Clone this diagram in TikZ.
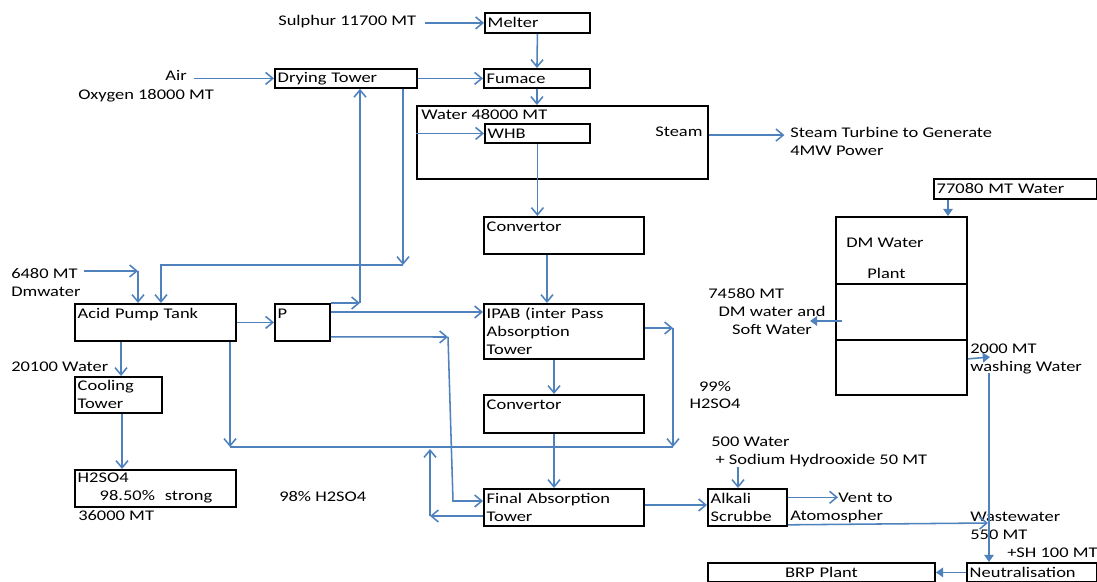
\documentclass[tikz,border=0pt]{standalone}
\usepackage{fontspec}
\setmainfont{Carlito}[FakeStretch=1.25]
\usetikzlibrary{arrows.meta,positioning,calc}
\definecolor{FlowBlue}{HTML}{4F81BD}

\begin{document}
\begin{tikzpicture}[x=0.025cm, y=-0.025cm,
  font=\fontsize{10.5}{12.8}\selectfont,
  box/.style={draw=black, line width=1.3pt, anchor=north west, inner xsep=2pt, inner ysep=1pt, align=left},
  txt/.style={inner sep=0pt, anchor=base west, align=left},
  flow/.style={line width=1.1pt, FlowBlue},
  arr/.style={flow, -{Straight Barb[length=1.8mm, width=3mm]}},
  farr/.style={flow, -{Triangle[length=1.8mm, width=2.4mm]}}
]
\useasboundingbox (0,0) rectangle (1097,582);

% process units
\node[box, text width=2.485cm, minimum height=0.5cm] (melter) at (484,12) {Melter};
\node[box, text width=2.51cm, minimum height=0.475cm] (fumace) at (483,68) {Fumace};
\node[box, text width=3.41cm, minimum height=0.475cm] (drying) at (274,68) {Drying Tower};
\node[box, text width=7.135cm, minimum height=1.825cm] (furnbox) at (416,105) {};
\node[box, text width=2.485cm, minimum height=0.475cm] (whb) at (484,123) {WHB};
\node[box, text width=3.86cm, minimum height=0.925cm] (conv1) at (483,216) {Convertor\\~};
\node[box, text width=3.86cm, minimum height=1.375cm] (ipab) at (483,303) {IPAB (inter Pass\\Absorption\\Tower};
\node[box, text width=3.86cm, minimum height=0.95cm] (conv2) at (483,394) {Convertor\\~};
\node[box, text width=3.86cm, minimum height=0.925cm] (fat) at (483,488) {Final Absorption\\Tower};
\node[box, text width=1.835cm, minimum height=0.925cm] (scrub) at (707,488) {Alkali\\Scrubbe};
\node[box, text width=5.535cm, minimum height=0.475cm, align=center] (brp) at (707,562) {BRP Plant};
\node[box, text width=3.11cm, minimum height=0.475cm] (neut) at (966,562) {Neutralisation};
\node[box, text width=3.135cm, minimum height=4.45cm] (dmplant) at (835,216) {};
\node[box, text width=3.935cm, minimum height=0.5cm] (rawwater) at (933,178) {77080 MT Water};
\node[box, text width=3.885cm, minimum height=0.925cm] (apt) at (74,303) {Acid Pump Tank\\~};
\node[box, text width=1.235cm, minimum height=0.925cm] (pump) at (274,303) {P\\~};
\node[box, text width=2.035cm, minimum height=0.9cm] (cooltw) at (74,376) {Cooling\\Tower};
\node[box, text width=3.885cm, minimum height=0.925cm] (product) at (74,469) {H2SO4\\\hspace*{0.55cm}98.50\%\ \ strong};

% DM plant sections
\draw[line width=1.3pt] ($(dmplant.north west)+(0,68)$) -- ($(dmplant.north east)+(0,68)$);
\draw[line width=1.3pt] ($(dmplant.north west)+(0,124)$) -- ($(dmplant.north east)+(0,124)$);

% labels (multi-line ones sit on their last baseline)
\node[txt] (tsulphur) at (278,26) {Sulphur 11700 MT};
\node[txt, anchor=base east] (tair) at (187,81) {Air};
\node[txt] (toxygen) at (78,100) {Oxygen 18000 MT};
\node[txt] (tdmw) at (11,297) {6480 MT\\Dmwater};
\node[txt] (tcoolw) at (11,372) {20100 Water};
\node[txt] (tprod) at (78,520) {36000 MT};
\node[txt] (t98) at (279,501) {98\% H2SO4};
\node[txt] (twater) at (421,120) {Water 48000 MT};
\node[txt] (tsteam) at (655,137) {Steam};
\node[txt] (tturbine) at (790,156) {Steam Turbine to Generate\\4MW Power};
\node[txt, anchor=base, align=center] (t99) at (715,409) {99\%\\H2SO4};
\node[txt] (tnaoh) at (711,464) {500 Water\\\hspace*{3pt}+ Sodium Hydrooxide 50 MT};
\node[txt] (tvent) at (838,502) {Vent to};
\node[txt] (tatmo) at (790,520) {Atomospher};
\node[txt] (twaste) at (970,539) {Wastewater\\550 MT};
\node[txt] (tsh) at (1007,557) {+SH 100 MT};
\node[txt] (twash) at (970,372) {2000 MT\\washing Water};
\node[txt] (t74580) at (708,299) {74580 MT};
\node[txt, anchor=base, align=center] (tsoft) at (772,335) {DM water and\\Soft Water};
\node[txt] (tdm) at (846,248) {DM Water};
\node[txt] (tplant) at (867,279) {Plant};

% bends
\coordinate (ipabr) at (673,328);
\coordinate (ipabd) at (673,447);
\coordinate (aptd) at (230,447);
\coordinate (fatl) at (430,516);
\coordinate (fatu) at (430,449);
\coordinate (pdr) at (448,337);
\coordinate (pdd) at (453,501);
\coordinate (pup) at (360,303);
\coordinate (dryd) at (403,265);
\coordinate (aptu) at (161,265);
\coordinate (dmwr) at (138,271);
\coordinate (wwin) at (988,523);
\coordinate (washr) at (990,357);
\coordinate (washd) at (989,373);
\coordinate (softw) at (810,321);

% gas line
\draw[arr] ([xshift=6pt]tsulphur.east |- melter.west) -- (melter.west);
\draw[arr] (melter.south) -- (fumace.north);
\draw[arr] ([xshift=5pt]tair.east |- drying.west) -- (drying.west);
\draw[arr] (drying.east) -- (fumace.west);
\draw[arr] (fumace.south) -- (fumace.south |- furnbox.north);
\draw[arr] (furnbox.west |- whb.west) -- (whb.west);
\draw[arr] ([yshift=-2pt]furnbox.east |- tsteam.east) -- ([xshift=-4pt, yshift=-2pt]tturbine.west |- tsteam.east);
\draw[arr] (whb.south) -- (whb.south |- conv1.north);
\draw[arr] ($(conv1.south west)+(64,0)$) -- ($(ipab.north west)+(64,0)$);
\draw[arr] ($(ipab.south west)+(71,0)$) -- ($(conv2.north west)+(71,0)$);
\draw[arr] ($(conv2.south west)+(71,0)$) -- ($(fat.north west)+(71,0)$);
\draw[arr] ($(fat.north east)+(0,17)$) -- ($(scrub.north west)+(0,17)$);
\draw[arr] ($(tnaoh.south west)+(27,0)$) -- ($(scrub.north west)+(31,0)$);
\draw[arr] (scrub.east |- tvent.west) -- (tvent.west);
\draw[arr] ($(scrub.south east)+(0,-2)$) -- (wwin);

% acid loop
\draw[arr] (ipab.east |- ipabr) -- (ipabr);
\draw[arr] (ipabr) -- (ipabd);
\draw[flow] (ipabd) -- (aptd);
\draw[arr] (apt.south east -| aptd) -- (aptd);
\draw[arr] (fat.west |- fatl) -- (fatl);
\draw[arr] (fatl) -- (fatu);
\draw[arr] (apt.east) -- (pump.west);
\draw[arr] ($(pump.north east)+(0,9)$) -- ($(ipab.north west)+(0,9)$);
\draw[arr] ($(pump.south east)+(0,-5)$) -- (pdr);
\draw[arr] (pdr) -- (pdd) -- (fat.west |- pdd);
\draw[arr] (pump.north east) -- (pup);
\draw[arr] (pup) -- (pup |- drying.south);
\draw[arr] (drying.south -| dryd) -- (dryd);
\draw[arr] (dryd) -- (aptu) -- (aptu |- apt.north);
\draw[arr] ([xshift=2pt]tdmw.north east |- dmwr) -- (dmwr);
\draw[arr] (dmwr) -- (dmwr |- apt.north);
\draw[arr] ($(apt.south west)+(47,0)$) -- ($(cooltw.north west)+(47,0)$);
\draw[arr] ($(cooltw.south west)+(48,0)$) -- ($(product.north west)+(48,0)$);

% water side
\draw[farr] ($(rawwater.south west)+(15,0)$) -- ($(dmplant.north west)+(113,0)$);
\draw[farr] ($(dmplant.north west)+(7,105)$) -- (softw);
\draw[farr] ($(dmplant.south east)+(0,-37)$) -- (washr);
\draw[farr] (washd) -- (washd |- neut.north);
\draw[farr] (neut.west) -- (brp.east);
\end{tikzpicture}
\end{document}
